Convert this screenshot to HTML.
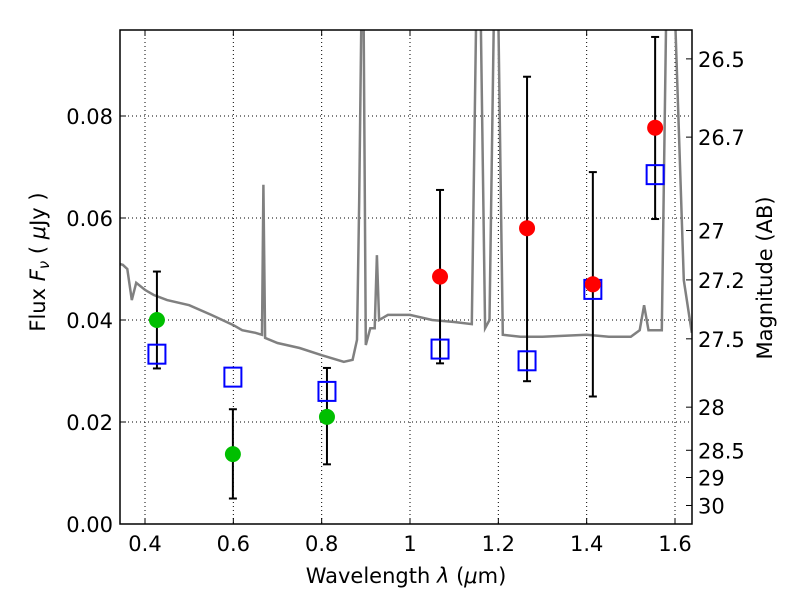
<!DOCTYPE html>
<html><head><meta charset="utf-8"><style>
body{margin:0;background:#fff;width:800px;height:600px;overflow:hidden}
text{font-family:"DejaVu Sans","Liberation Sans",sans-serif;fill:#000}
</style></head><body>
<svg id="chart" width="800" height="600" xmlns="http://www.w3.org/2000/svg"></svg>
<script>
const xTicks=[0.4,0.6,0.8,1.0,1.2,1.4,1.6];
const xTickLabels=["0.4","0.6","0.8","1","1.2","1.4","1.6"];
const yTicks=[0,0.02,0.04,0.06,0.08];
const yTickLabels=["0.00","0.02","0.04","0.06","0.08"];
const magTicks=[26.5,26.7,27,27.2,27.5,28,28.5,29,30];
const magLabels=["26.5","26.7","27","27.2","27.5","28","28.5","29","30"];
const specX=[0.343,0.35,0.36,0.37,0.38,0.40,0.42,0.45,0.50,0.55,0.60,0.62,0.65,0.665,0.668,0.672,0.70,0.75,0.80,0.85,0.87,0.88,0.885,0.89,0.895,0.90,0.91,0.92,0.925,0.93,0.95,1.0,1.05,1.1,1.14,1.15,1.16,1.17,1.18,1.19,1.20,1.21,1.25,1.3,1.35,1.4,1.45,1.5,1.52,1.53,1.54,1.57,1.58,1.60,1.62,1.638];
const specY=[0.051,0.0508,0.050,0.0439,0.0473,0.0459,0.0449,0.0439,0.0429,0.041,0.039,0.038,0.0375,0.0371,0.0665,0.0365,0.0355,0.0345,0.0331,0.0318,0.0322,0.0361,0.0635,0.1,0.1,0.0351,0.0384,0.0384,0.0527,0.040,0.041,0.041,0.040,0.0396,0.0392,0.1,0.1,0.0384,0.040,0.1,0.1,0.0371,0.0367,0.0367,0.0369,0.0371,0.0367,0.0367,0.038,0.0429,0.038,0.038,0.1,0.1,0.0478,0.0375];
const greenX=[0.427,0.599,0.812];
const greenY=[0.040,0.0137,0.021];
const greenLo=[0.0305,0.005,0.0117];
const greenHi=[0.0495,0.0225,0.0306];
const redX=[1.068,1.265,1.414,1.555];
const redY=[0.0485,0.058,0.047,0.0777];
const redLo=[0.0315,0.028,0.025,0.0598];
const redHi=[0.0655,0.0877,0.069,0.0955];
const modelX=[0.427,0.599,0.812,1.068,1.265,1.414,1.555];
const modelY=[0.0333,0.0288,0.026,0.0343,0.032,0.046,0.0685];

const L=120,R=692,T=30,B=524;
const xs=v=>145+(v-0.4)*(530/1.2);
const ys=v=>B-v*5100;
const svg=document.getElementById('chart');
const NS='http://www.w3.org/2000/svg';
function mk(t,a,p){const e=document.createElementNS(NS,t);for(const k in a)e.setAttribute(k,a[k]);(p||svg).appendChild(e);return e;}
const clip=mk('clipPath',{id:'pc'});mk('rect',{x:L,y:T,width:R-L,height:B-T},clip);
xTicks.forEach((v,i)=>{
 let g=mk('line',{x1:xs(v),x2:xs(v),y1:T,y2:B,stroke:'#000','stroke-dasharray':'1,3','stroke-width':1});
 
 mk('line',{x1:xs(v),x2:xs(v),y1:B,y2:B-6,stroke:'#000'});mk('line',{x1:xs(v),x2:xs(v),y1:T,y2:T+6,stroke:'#000'});
 let t=mk('text',{x:xs(v),y:B+27,'text-anchor':'middle','font-size':21});t.textContent=xTickLabels[i];
 
});
yTicks.forEach((v,i)=>{
 let g=mk('line',{x1:L,x2:R,y1:ys(v),y2:ys(v),stroke:'#000','stroke-dasharray':'1,3','stroke-width':1});
 
 mk('line',{x1:L,x2:L+6,y1:ys(v),y2:ys(v),stroke:'#000'});
 let t=mk('text',{x:L-7,y:ys(v)+8,'text-anchor':'end','font-size':21});t.textContent=yTickLabels[i];
 
});
magTicks.forEach((m,i)=>{
 const f=Math.pow(10,(23.9-m)/2.5);const y=ys(f);
 mk('line',{x1:R,x2:R-6,y1:y,y2:y,stroke:'#000'});
 let t=mk('text',{x:R+6,y:y+8,'font-size':21});t.textContent=magLabels[i];
 
});
let d=specX.map((x,i)=>(i?'L':'M')+xs(x).toFixed(1)+','+ys(specY[i]).toFixed(1)).join('');
let sp=mk('path',{d:d,fill:'none',stroke:'#808080','stroke-width':2.5,'clip-path':'url(#pc)'});

function errs(X,Y,Lo,Hi,col,name){X.forEach((x,i)=>{
 const px=xs(x);
 let g=mk('g',{});
 mk('line',{x1:px,x2:px,y1:ys(Lo[i]),y2:ys(Hi[i]),stroke:'#000','stroke-width':2},g);
 mk('line',{x1:px-4,x2:px+4,y1:ys(Lo[i]),y2:ys(Lo[i]),stroke:'#000','stroke-width':2},g);
 mk('line',{x1:px-4,x2:px+4,y1:ys(Hi[i]),y2:ys(Hi[i]),stroke:'#000','stroke-width':2},g);
});}
errs(greenX,greenY,greenLo,greenHi,'#00bf00','green');
errs(redX,redY,redLo,redHi,'red','red');
modelX.forEach((x,i)=>{
 let r=mk('rect',{x:xs(x)-8.5,y:ys(modelY[i])-9.5,width:17,height:19,fill:'none',stroke:'#0000ff','stroke-width':2});
 
});
greenX.forEach((x,i)=>{let c=mk('circle',{cx:xs(x),cy:ys(greenY[i]),r:8,fill:'#00bf00'});
 });
redX.forEach((x,i)=>{let c=mk('circle',{cx:xs(x),cy:ys(redY[i]),r:8,fill:'#ff0000'});
 });
let fr=mk('rect',{x:L,y:T,width:R-L,height:B-T,fill:'none',stroke:'#000','stroke-width':1.5});

let xl=mk('text',{x:406,y:583,'text-anchor':'middle','font-size':21});xl.innerHTML='Wavelength  <tspan font-style="italic">λ</tspan> (<tspan font-style="italic">μ</tspan>m)';

let yl=mk('text',{x:45,y:262,'text-anchor':'middle','font-size':21,transform:'rotate(-90 45 262)'});yl.innerHTML='Flux  <tspan font-style="italic">F</tspan><tspan font-style="italic" font-size="15" dy="4">ν</tspan><tspan dy="-4">  ( </tspan><tspan font-style="italic">μ</tspan>Jy )';

let ml=mk('text',{x:772,y:278,'text-anchor':'middle','font-size':21,transform:'rotate(-90 772 278)'});ml.textContent='Magnitude (AB)';

</script>
</body></html>
